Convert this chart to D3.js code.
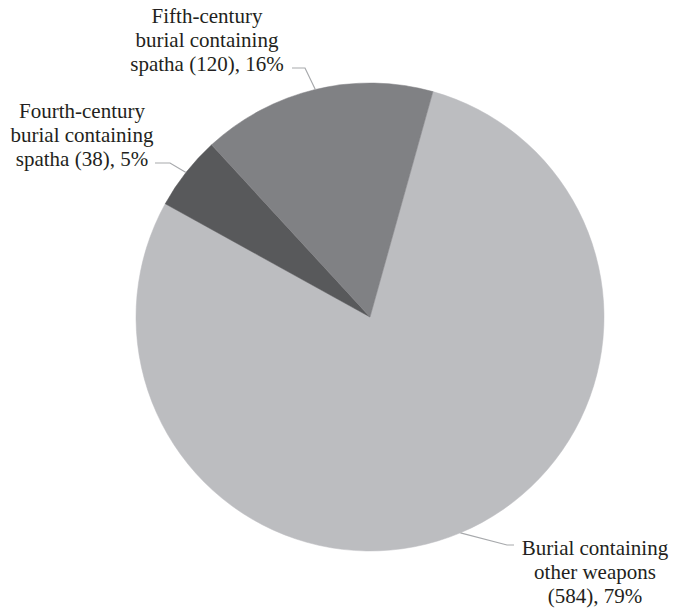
<!DOCTYPE html>
<html>
<head>
<meta charset="utf-8">
<script src="https://cdn.jsdelivr.net/npm/d3@7"></script>
<style>
  body { margin: 0; background: #fff; }
  svg { display: block; }
  text { font-family: "Liberation Serif", "DejaVu Serif", serif; fill: #231f20; }
</style>
</head>
<body>
<div id="chart"></div>
<script>
var categories = ["Burial containing other weapons", "Fourth-century burial containing spatha", "Fifth-century burial containing spatha"];
var counts = [584, 38, 120];
var percents = [79, 5, 16];
var labelLines = [
  ["Burial containing", "other weapons", "(584), 79%"],
  ["Fourth-century", "burial containing", "spatha (38), 5%"],
  ["Fifth-century", "burial containing", "spatha (120), 16%"]
];
var colors = ["#bcbdc0", "#58595b", "#808184"];

var width = 673, height = 613;
var cx = 370, cy = 317, radius = 234;
var startAngle = 15.6 * Math.PI / 180;

// label layout: text centre x, first baseline, elbow point, end of horizontal leg
var labelPos = [
  { x: 595, y: 555, elbow: [507, 545], end: [514, 545] },
  { x: 82, y: 118, elbow: [170, 163], end: [155, 163] },
  { x: 207, y: 23, elbow: [305, 68], end: [292, 68] }
];

var svg = d3.select("#chart").append("svg")
    .attr("width", width)
    .attr("height", height);

var data = categories.map(function(c, i) {
  return { name: c, value: counts[i], pct: percents[i], lines: labelLines[i], color: colors[i], pos: labelPos[i] };
});

var pie = d3.pie()
    .sort(null)
    .value(function(d) { return d.value; })
    .startAngle(startAngle)
    .endAngle(startAngle + 2 * Math.PI);

var arc = d3.arc().innerRadius(0).outerRadius(radius);
var arcs = pie(data);

var g = svg.append("g").attr("transform", "translate(" + cx + "," + cy + ")");

g.selectAll("path.slice")
    .data(arcs)
  .enter().append("path")
    .attr("class", "slice")
    .attr("d", arc)
    .attr("fill", function(d) { return d.data.color; })
    .attr("stroke", function(d) { return d.data.color; })
    .attr("stroke-width", 0.5);

// leader lines
svg.selectAll("polyline.leader")
    .data(arcs)
  .enter().append("polyline")
    .attr("class", "leader")
    .attr("fill", "none")
    .attr("stroke", "#a7a9ac")
    .attr("stroke-width", 1.2)
    .attr("points", function(d) {
      var a = (d.startAngle + d.endAngle) / 2;
      var px = cx + radius * Math.sin(a), py = cy - radius * Math.cos(a);
      var p = d.data.pos;
      return [[px, py], p.elbow, p.end].map(function(q) { return q.join(","); }).join(" ");
    });

// labels
var labels = svg.selectAll("text.label")
    .data(arcs)
  .enter().append("text")
    .attr("class", "label")
    .attr("text-anchor", "middle")
    .attr("font-size", 21);

labels.selectAll("tspan")
    .data(function(d) { return d.data.lines.map(function(l) { return { t: l, p: d.data.pos }; }); })
  .enter().append("tspan")
    .attr("x", function(d) { return d.p.x; })
    .attr("y", function(d, i) { return d.p.y + i * 24; })
    .text(function(d) { return d.t; });
</script>
</body>
</html>
